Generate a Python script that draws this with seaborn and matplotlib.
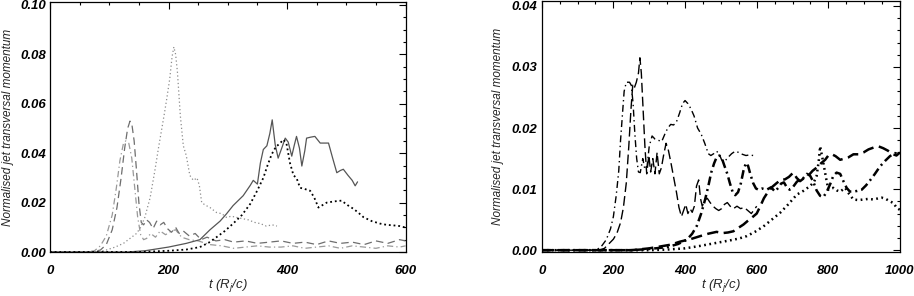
import numpy as np
import pandas as pd
import matplotlib
matplotlib.use("Agg")
import matplotlib.pyplot as plt
import seaborn as sns
from matplotlib.ticker import MultipleLocator

# ---- left panel data (t in R_j/c, normalised transversal momentum) ----
left_dashdot_t = [0, 60, 75, 85, 95, 105, 112, 118, 124, 128, 133, 138, 143, 148, 153, 158, 163, 170,
                  178, 186, 195, 205, 212, 222, 235, 250, 270, 290, 310, 330, 350, 370, 390, 410, 430,
                  450, 470, 490, 510, 530, 550, 570, 590, 600]
left_dashdot_v = [0, 0, 0.0005, 0.0025, 0.0065, 0.015, 0.026, 0.037, 0.044, 0.045, 0.044, 0.038, 0.026,
                  0.014, 0.007, 0.005, 0.0055, 0.0075, 0.006, 0.0085, 0.007, 0.0085, 0.009, 0.006, 0.005,
                  0.0045, 0.003, 0.0025, 0.0015, 0.002, 0.0025, 0.002, 0.002, 0.0025, 0.0015, 0.002,
                  0.0025, 0.0015, 0.0025, 0.002, 0.0015, 0.0025, 0.002, 0.0025]

left_dashed_t = [0, 70, 85, 95, 105, 113, 120, 126, 131, 135, 138, 142, 146, 150, 154, 158, 163, 168, 174,
                 180, 186, 192, 198, 205, 212, 218, 225, 235, 245, 255, 265, 280, 295, 310, 330, 350, 370,
                 390, 410, 430, 450, 470, 490, 510, 530, 550, 570, 590, 600]
left_dashed_v = [0, 0, 0.0008, 0.003, 0.009, 0.018, 0.030, 0.042, 0.050, 0.053, 0.052, 0.045, 0.033, 0.020,
                 0.012, 0.011, 0.013, 0.012, 0.0095, 0.0125, 0.011, 0.012, 0.0095, 0.008, 0.010, 0.0075,
                 0.0085, 0.0065, 0.0075, 0.005, 0.006, 0.0045, 0.005, 0.004, 0.0045, 0.0035, 0.004, 0.0045,
                 0.0035, 0.004, 0.003, 0.0045, 0.0035, 0.004, 0.003, 0.0045, 0.0035, 0.005, 0.0045]

left_dotgray_t = [0, 80, 95, 110, 124, 135, 146, 153, 160, 169, 177, 183, 188, 193, 197, 202, 206, 209, 212,
                  215, 220, 225, 230, 236, 242, 248, 252, 256, 262, 270, 281, 290, 298, 306, 315, 325, 335,
                  345, 355, 365, 375, 383]
left_dotgray_v = [0, 0, 0.0008, 0.002, 0.0035, 0.0055, 0.0075, 0.010, 0.014, 0.022, 0.033, 0.042, 0.049,
                  0.056, 0.062, 0.070, 0.079, 0.083, 0.080, 0.073, 0.055, 0.043, 0.039, 0.031, 0.029, 0.030,
                  0.027, 0.020, 0.019, 0.018, 0.016, 0.0155, 0.014, 0.0145, 0.014, 0.0135, 0.013, 0.012,
                  0.0115, 0.0105, 0.011, 0.0105]

left_solid_t = [0, 130, 160, 200, 230, 253, 270, 287, 298, 309, 326, 338, 343, 350, 355, 360, 366, 371, 375,
                380, 385, 391, 397, 402, 408, 412, 416, 421, 425, 430, 433, 440, 447, 456, 463, 470, 477,
                484, 490, 495, 503, 510, 515, 519]
left_solid_v = [0, 0, 0.0005, 0.002, 0.0035, 0.005, 0.009, 0.0125, 0.0155, 0.0188, 0.0228, 0.027, 0.029,
                0.0275, 0.036, 0.0415, 0.043, 0.048, 0.0535, 0.0435, 0.038, 0.042, 0.0461, 0.0445, 0.0388,
                0.043, 0.0468, 0.042, 0.0348, 0.041, 0.0461, 0.0465, 0.0468, 0.0441, 0.0441, 0.0441, 0.038,
                0.0321, 0.033, 0.0335, 0.031, 0.029, 0.0268, 0.0284]

left_dotblack_t = [0, 150, 200, 230, 253, 268, 281, 295, 309, 324, 338, 350, 360, 367, 374, 381, 388, 394,
                   399, 405, 411, 416, 422, 430, 439, 446, 453, 460, 467, 480, 492, 502, 512, 520, 529, 543,
                   557, 568, 579, 590, 600]
left_dotblack_v = [0, 0, 0.0005, 0.001, 0.002, 0.0038, 0.006, 0.0085, 0.0115, 0.015, 0.0195, 0.025, 0.030,
                   0.035, 0.0395, 0.0425, 0.044, 0.0455, 0.044, 0.036, 0.031, 0.030, 0.026, 0.0255, 0.0248,
                   0.022, 0.018, 0.019, 0.020, 0.0205, 0.0208, 0.019, 0.0175, 0.016, 0.0141, 0.0125, 0.0115,
                   0.011, 0.0108, 0.0105, 0.0099]

# ---- right panel data ----
right_dashdot_t = [0, 150, 165, 180, 192, 200, 208, 215, 220, 225, 230, 236, 245, 250, 255, 260, 265, 270,
                   275, 282, 288, 294, 300, 308, 316, 325, 335, 345, 352, 360, 368, 376, 385, 393, 400, 408,
                   416, 425, 435, 445, 455, 465, 472, 480, 488, 495, 502, 510, 520, 530, 540, 550, 560, 570,
                   580, 590, 598]
right_dashdot_v = [0, 0, 0.0005, 0.0017, 0.0035, 0.0055, 0.009, 0.013, 0.018, 0.022, 0.026, 0.0275, 0.0275,
                   0.027, 0.024, 0.019, 0.015, 0.0128, 0.0127, 0.015, 0.0132, 0.0137, 0.017, 0.0187, 0.0182,
                   0.018, 0.0178, 0.0192, 0.020, 0.0206, 0.0205, 0.021, 0.0225, 0.024, 0.0245, 0.024, 0.0232,
                   0.022, 0.020, 0.019, 0.0175, 0.0158, 0.0155, 0.0158, 0.0162, 0.0158, 0.0148, 0.0145,
                   0.0152, 0.0158, 0.0162, 0.016, 0.0157, 0.0155, 0.0156, 0.0155, 0.0153]

right_dashed_t = [0, 160, 175, 190, 200, 210, 220, 228, 236, 243, 249, 254, 258, 264, 270, 274, 278, 283, 288,
                  293, 299, 304, 310, 316, 322, 328, 334, 340, 347, 353, 360, 368, 376, 383, 390, 396, 402,
                  408, 414, 420, 426, 432, 438, 443, 448, 455, 462, 470, 478, 486, 494, 502, 510, 518, 526,
                  535, 545, 555, 565, 575, 585, 595, 600]
right_dashed_v = [0, 0, 0.0003, 0.0012, 0.0018, 0.0028, 0.0045, 0.007, 0.011, 0.017, 0.023, 0.027, 0.0265,
                  0.0275, 0.029, 0.0315, 0.029, 0.023, 0.017, 0.0125, 0.0155, 0.0128, 0.015, 0.0125, 0.016,
                  0.0125, 0.0135, 0.0155, 0.0175, 0.0165, 0.0145, 0.012, 0.0095, 0.007, 0.0055, 0.0065,
                  0.0075, 0.006, 0.0068, 0.0062, 0.0072, 0.0105, 0.0115, 0.0085, 0.0072, 0.0082, 0.0085,
                  0.0078, 0.0072, 0.0068, 0.0065, 0.0068, 0.0075, 0.0078, 0.0072, 0.0068, 0.0072, 0.0068,
                  0.007, 0.0065, 0.006, 0.0068, 0.0072]

right_dashdot2_t = [0, 250, 300, 350, 380, 405, 420, 433, 445, 456, 465, 473, 481, 488, 496, 503, 510, 518,
                    525, 533, 540, 548, 556, 563, 570, 576, 582, 590, 598, 605, 615, 628, 640, 651, 660, 668,
                    676, 684, 692, 702, 712, 721, 730, 740, 749, 758, 767, 777, 786, 795, 805, 814, 823, 833,
                    842, 851, 860, 870, 880, 893, 905, 916, 930, 944, 958, 972, 986, 1000]
right_dashdot2_v = [0, 0, 0.0002, 0.0005, 0.001, 0.0017, 0.0027, 0.004, 0.006, 0.0083, 0.0105, 0.0127,
                    0.0142, 0.0152, 0.0155, 0.015, 0.0138, 0.0125, 0.011, 0.0095, 0.009, 0.0095, 0.011, 0.013,
                    0.0143, 0.0138, 0.0125, 0.011, 0.0101, 0.0099, 0.0101, 0.0099, 0.0103, 0.0096, 0.0102,
                    0.0109, 0.0111, 0.0103, 0.0099, 0.0104, 0.0112, 0.0116, 0.0118, 0.0125, 0.0122, 0.0112,
                    0.0098, 0.0089, 0.0087, 0.0095, 0.0108, 0.0122, 0.0127, 0.0125, 0.0113, 0.0102, 0.0096,
                    0.0096, 0.0097, 0.0099, 0.0106, 0.0114, 0.0125, 0.0137, 0.0146, 0.0154, 0.0159, 0.0156]

right_dashed2_t = [0, 250, 300, 330, 360, 386, 415, 442, 465, 488, 505, 520, 535, 550, 563, 575, 590, 600,
                   610, 620, 632, 644, 656, 667, 679, 690, 702, 712, 721, 732, 744, 756, 767, 779, 791, 800,
                   810, 820, 833, 845, 856, 870, 884, 898, 912, 926, 940, 953, 966, 981, 990, 1000]
right_dashed2_v = [0, 0, 0.0003, 0.0006, 0.0009, 0.0014, 0.0018, 0.0023, 0.0027, 0.003, 0.0028, 0.0029,
                   0.0031, 0.0037, 0.0042, 0.0048, 0.0055, 0.006, 0.0072, 0.0085, 0.0096, 0.0104, 0.011,
                   0.0115, 0.0116, 0.012, 0.0127, 0.0118, 0.0113, 0.0118, 0.0122, 0.013, 0.0135, 0.0142,
                   0.0148, 0.0155, 0.0157, 0.0154, 0.0148, 0.015, 0.0152, 0.0157, 0.0157, 0.016, 0.0165,
                   0.0168, 0.017, 0.0167, 0.0163, 0.0157, 0.0155, 0.016]

right_dotted_t = [0, 300, 350, 400, 442, 488, 525, 550, 572, 595, 619, 642, 665, 688, 712, 730, 749, 760, 767,
                  773, 777, 782, 786, 793, 800, 807, 814, 823, 833, 840, 847, 858, 870, 884, 898, 912, 926,
                  940, 949, 960, 972, 982, 991, 1000]
right_dotted_v = [0, 0, 0.0001, 0.0003, 0.0007, 0.0012, 0.0016, 0.0019, 0.0023, 0.003, 0.0039, 0.005,
                  0.0061, 0.0075, 0.0091, 0.0097, 0.0105, 0.0112, 0.0121, 0.0145, 0.017, 0.0155, 0.0143,
                  0.012, 0.0099, 0.0101, 0.0102, 0.0098, 0.0096, 0.0099, 0.0102, 0.0092, 0.0083, 0.0082,
                  0.0083, 0.0084, 0.0083, 0.0085, 0.0086, 0.0084, 0.008, 0.0077, 0.0069, 0.0066]

ylabel = "Normalised jet transversal momentum"
xlabel = r"t (R$_j$/c)"

sns.set_style("white")
plt.rcParams["font.family"] = ["Liberation Sans", "DejaVu Sans"]
plt.rcParams["mathtext.fontset"] = "custom"
plt.rcParams["mathtext.rm"] = "Liberation Sans:italic"
plt.rcParams["mathtext.it"] = "Liberation Sans:italic"
plt.rcParams["mathtext.default"] = "it"

fig = plt.figure(figsize=(9.14, 2.96), dpi=100)
ax1 = fig.add_axes([0.0547, 0.1486, 0.389, 0.8446])
ax2 = fig.add_axes([0.5927, 0.1486, 0.392, 0.848])

# left panel curves
left_series = [
    (left_dashdot_t, left_dashdot_v, "#9a9a9a", 0.9, (0, (5, 2.5, 1, 2.5))),
    (left_dashed_t, left_dashed_v, "#6e6e6e", 0.9, (0, (6, 3.5))),
    (left_dotgray_t, left_dotgray_v, "#8c8c8c", 0.9, (0, (1, 2))),
    (left_solid_t, left_solid_v, "#555555", 0.9, "-"),
    (left_dotblack_t, left_dotblack_v, "black", 1.3, (0, (1, 1.6))),
]
for t, v, c, lw, ls in left_series:
    sns.lineplot(x=t, y=v, ax=ax1, color=c, linewidth=lw, linestyle=ls)

# right panel curves
right_series = [
    (right_dashdot_t, right_dashdot_v, 1.0, (0, (5, 2.5, 1, 2.5))),
    (right_dashed_t, right_dashed_v, 1.0, (0, (7, 3))),
    (right_dashdot2_t, right_dashdot2_v, 1.8, (0, (3.5, 1.6, 0.8, 1.6))),
    (right_dashed2_t, right_dashed2_v, 1.8, (0, (4.5, 2.2))),
    (right_dotted_t, right_dotted_v, 1.8, (0, (0.7, 1.4))),
]
for t, v, lw, ls in right_series:
    sns.lineplot(x=t, y=v, ax=ax2, color="black", linewidth=lw, linestyle=ls)

ax1.set_xlim(0, 600)
ax1.set_ylim(0, 0.1012)
ax1.xaxis.set_major_locator(MultipleLocator(200))
ax1.xaxis.set_minor_locator(MultipleLocator(50))
ax1.yaxis.set_major_locator(MultipleLocator(0.02))
ax1.yaxis.set_minor_locator(MultipleLocator(0.005))

ax2.set_xlim(0, 1000)
ax2.set_ylim(-0.0003, 0.0408)
ax2.xaxis.set_major_locator(MultipleLocator(200))
ax2.xaxis.set_minor_locator(MultipleLocator(50))
ax2.yaxis.set_major_locator(MultipleLocator(0.01))
ax2.yaxis.set_minor_locator(MultipleLocator(0.002))

for ax, pad in [(ax1, 4.5), (ax2, 5.5)]:
    for sp in ax.spines.values():
        sp.set_visible(True)
        sp.set_color("black")
        sp.set_linewidth(0.9)
    ax.tick_params(which="both", direction="in", top=True, right=True, colors="black", width=0.8)
    ax.tick_params(which="major", length=5)
    ax.tick_params(which="minor", length=2.5)
    ax.tick_params(axis="x", which="major", pad=9)
    ax.tick_params(axis="y", which="major", pad=3)
    ax.yaxis.set_major_formatter(matplotlib.ticker.FormatStrFormatter("%.2f"))
    ax.xaxis.set_major_formatter(matplotlib.ticker.FormatStrFormatter("%d"))
    for lbl in ax.get_xticklabels() + ax.get_yticklabels():
        lbl.set_fontsize(9.5)
        lbl.set_fontweight("bold")
        lbl.set_fontstyle("italic")
    ax.set_ylabel(ylabel, fontsize=8.5, fontstyle="italic", labelpad=pad)
    ax.set_xlabel(xlabel, fontsize=9.5, fontstyle="italic", labelpad=0.5)
    ax.grid(False)

fig.savefig("out.png", dpi=100)
